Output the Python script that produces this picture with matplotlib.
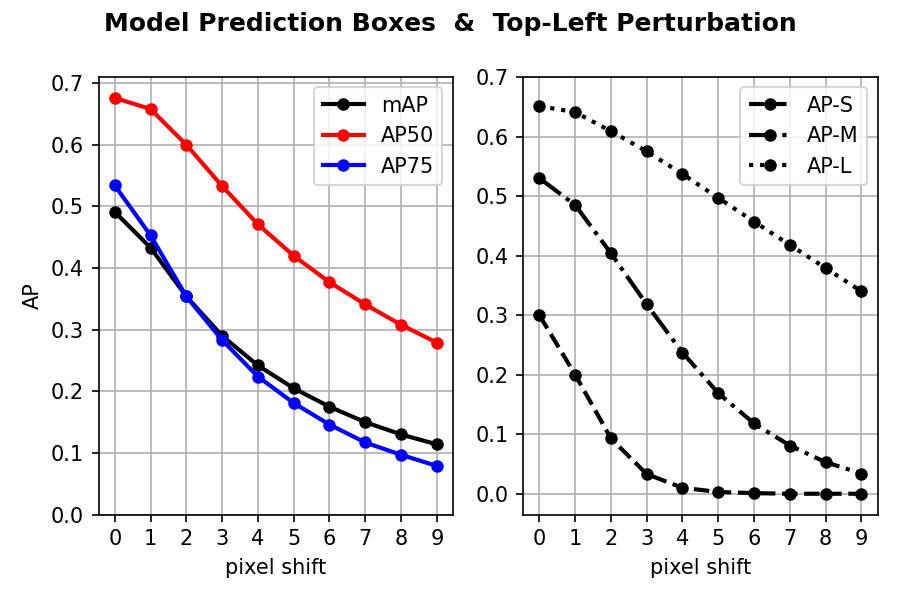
import numpy as np
import matplotlib
matplotlib.use("Agg")
import matplotlib.pyplot as plt

shift = list(range(10))
mAP = [0.491, 0.433, 0.354, 0.290, 0.242, 0.205, 0.175, 0.150, 0.130, 0.114]
AP50 = [0.676, 0.658, 0.600, 0.533, 0.471, 0.420, 0.377, 0.341, 0.308, 0.279]
AP75 = [0.534, 0.453, 0.354, 0.283, 0.224, 0.181, 0.146, 0.117, 0.097, 0.079]
AP_S = [0.300, 0.200, 0.093, 0.033, 0.010, 0.003, 0.001, 0.0, 0.0, 0.0]
AP_M = [0.530, 0.485, 0.404, 0.318, 0.237, 0.169, 0.118, 0.081, 0.053, 0.034]
AP_L = [0.651, 0.641, 0.609, 0.575, 0.537, 0.497, 0.457, 0.418, 0.379, 0.340]

fig, ax = plt.subplots(1, 2, figsize=(6, 4), dpi=150)

ax[0].plot(shift, mAP, marker="o", c="black", lw=2, ms=5, label="mAP")
ax[0].plot(shift, AP50, marker="o", c="red", lw=2, ms=5, label="AP50")
ax[0].plot(shift, AP75, marker="o", c="blue", lw=2, ms=5, label="AP75")
ax[0].set_ylim(0, 0.71)
ax[0].set_ylabel("AP")

ax[1].plot(shift, AP_S, marker="o", c="black", lw=2, ms=5, ls="--", label="AP-S")
ax[1].plot(shift, AP_M, marker="o", c="black", lw=2, ms=5, ls="-.", label="AP-M")
ax[1].plot(shift, AP_L, marker="o", c="black", lw=2, ms=5, ls=":", label="AP-L")
ax[1].set_ylim(-0.035, 0.7)

for a in ax:
    a.set_xticks(shift)
    a.set_xlabel("pixel shift")
    a.grid(True)
    a.legend(loc="upper right")

fig.suptitle("Model Prediction Boxes  &  Top-Left Perturbation", fontweight="bold")
plt.tight_layout()
fig.savefig("out.png")
